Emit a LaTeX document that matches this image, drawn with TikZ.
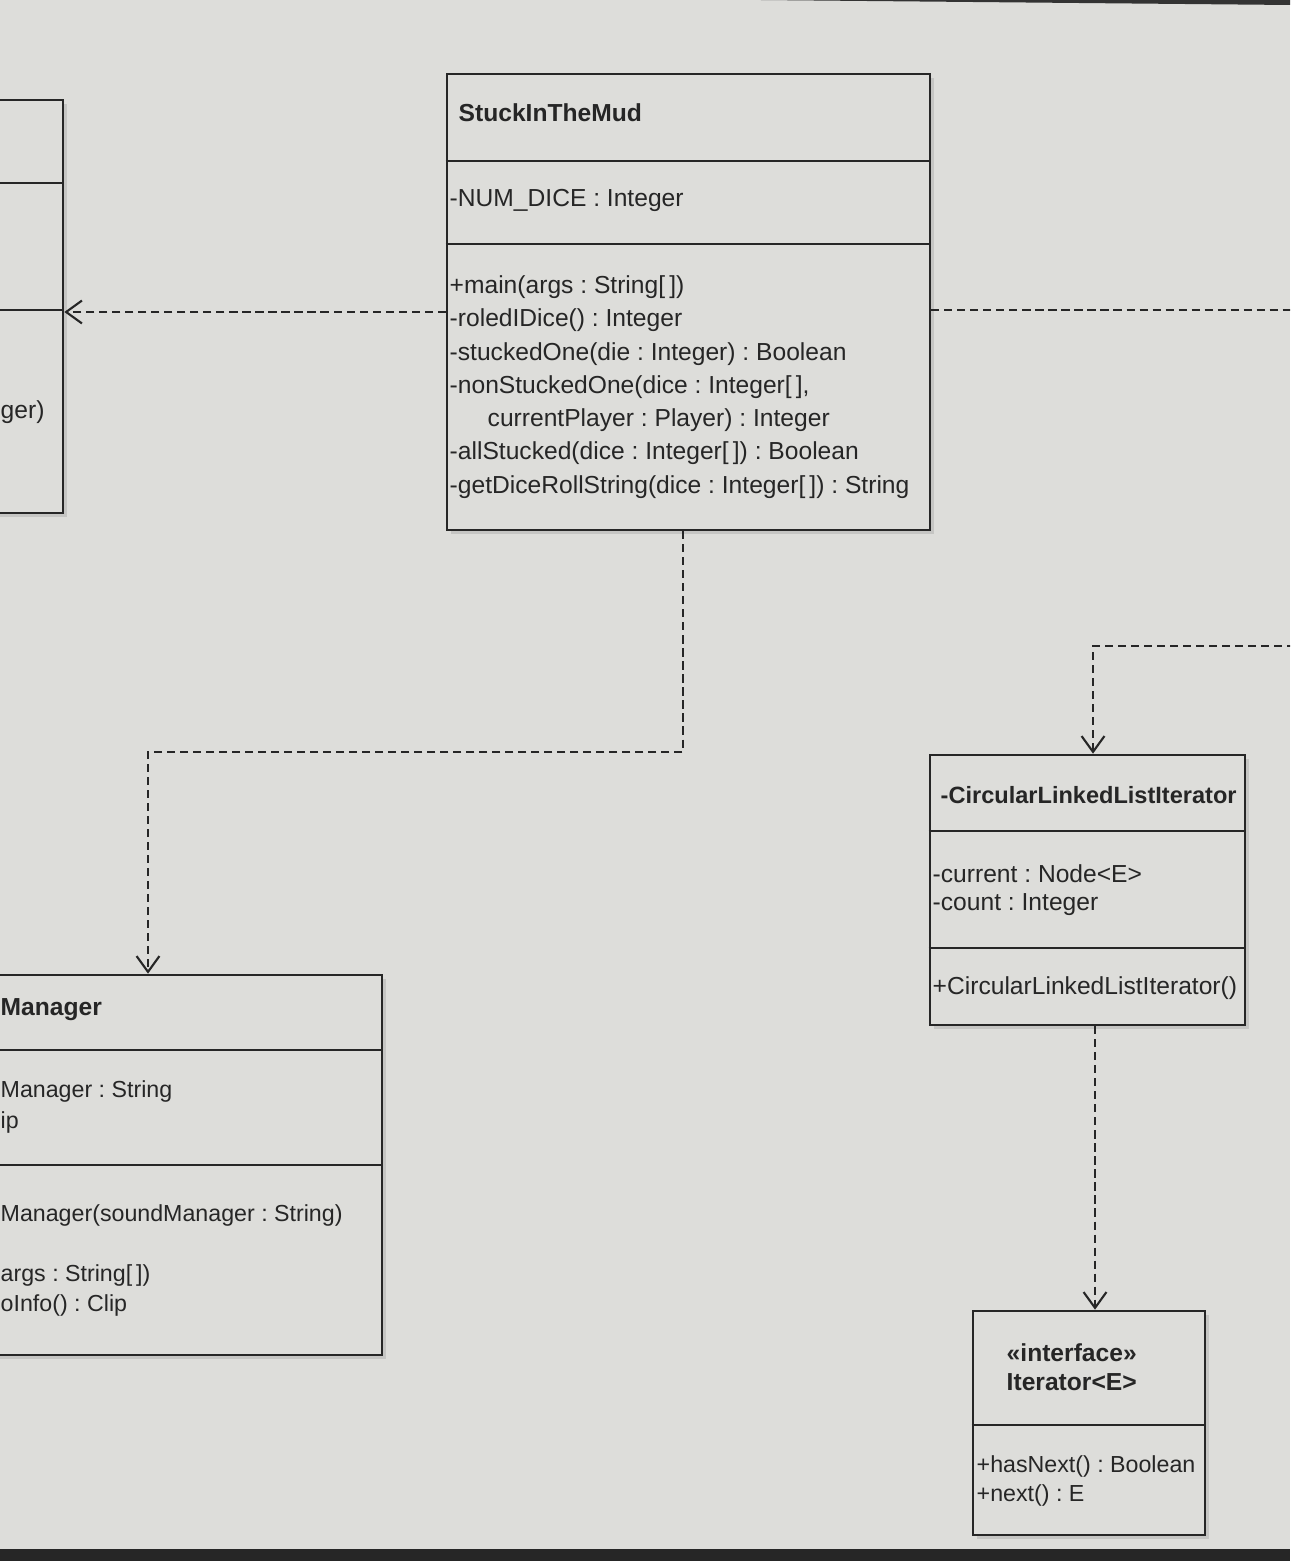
\documentclass[tikz,border=0pt]{standalone}
\usepackage{fontspec}
\setmainfont{Liberation Sans}
\usetikzlibrary{arrows.meta,fit,shadows}

\definecolor{paper}{RGB}{221,221,218}
\definecolor{ink}{RGB}{38,38,38}

\tikzset{
  umlbox/.style={draw=ink, line width=0.75pt, fill=paper, inner sep=0pt,
    drop shadow={shadow xshift=1pt, shadow yshift=-1pt, opacity=.25}},
  divider/.style={draw=ink, line width=0.75pt},
  member/.style={anchor=west, inner sep=0pt, text=ink, font=\fontsize{7}{8}\selectfont\frenchspacing},
  smallmember/.style={member, font=\fontsize{6.6}{8}\selectfont\frenchspacing},
  classname/.style={member, font=\fontsize{7}{8}\selectfont\bfseries},
  dep/.style={draw=ink, line width=0.6pt, dash pattern=on 2.3pt off 1.4pt,
    -{Straight Barb[length=4.5pt,width=6.5pt]}},
}

\begin{document}
\begin{tikzpicture}[x=0.01cm,y=-0.01cm]
\useasboundingbox (0,0) rectangle (1290,1561);
\clip (0,0) rectangle (1290,1561);
% Screen
\fill[paper] (0,0) rectangle (1290,1561);
\fill[black!85] (0,1549) rectangle (1290,1561);
\fill[black!80] (760,0) -- (1290,0) -- (1290,5) -- cycle;

% Class boxes
\node[umlbox, fit={(-20,100) (63,513)}] (lbox) {};
\node[umlbox, fit={(447,74) (930,530)}] (stuck) {};
\node[umlbox, fit={(-20,975) (382,1355)}] (mgr) {};
\node[umlbox, fit={(930,755) (1245,1025)}] (clli) {};
\node[umlbox, fit={(973,1311) (1205,1535)}] (iter) {};

% Compartments
\draw[divider] (lbox.west |- 0,183) -- (lbox.east |- 0,183);
\draw[divider] (lbox.west |- 0,310) -- (lbox.east |- 0,310);
\draw[divider] (stuck.west |- 0,161) -- (stuck.east |- 0,161);
\draw[divider] (stuck.west |- 0,244) -- (stuck.east |- 0,244);
\draw[divider] (mgr.west |- 0,1050) -- (mgr.east |- 0,1050);
\draw[divider] (mgr.west |- 0,1165) -- (mgr.east |- 0,1165);
\draw[divider] (clli.west |- 0,831) -- (clli.east |- 0,831);
\draw[divider] (clli.west |- 0,948) -- (clli.east |- 0,948);
\draw[divider] (iter.west |- 0,1425) -- (iter.east |- 0,1425);

% Left class (cut off)
\node[member] (lboxM) at (0,412) {ger)};

% StuckInTheMud
\node[classname] (stuckT) at (458,113) {StuckInTheMud};
\node[member] (stuckA) at (449,200) {-NUM\_DICE : Integer};
\node[member] (stuckM1) at (449,287) {+main(args : String[\,])};
\node[member] (stuckM2) at (449,320) {-roledIDice() : Integer};
\node[member] (stuckM3) at (449,354) {-stuckedOne(die : Integer) : Boolean};
\node[member] (stuckM4) at (449,387) {-nonStuckedOne(dice : Integer[\,],};
\node[member] (stuckM5) at (487,420) {currentPlayer : Player) : Integer};
\node[member] (stuckM6) at (449,453) {-allStucked(dice : Integer[\,]) : Boolean};
\node[member] (stuckM7) at (449,487) {-getDiceRollString(dice : Integer[\,]) : String};

% Manager (cut off)
\node[classname] (mgrT) at (0,1010) {Manager};
\node[smallmember] (mgrA1) at (0,1091) {Manager : String};
\node[smallmember] (mgrA2) at (0,1122) {ip};
\node[smallmember] (mgrM1) at (0,1215) {Manager(soundManager : String)};
\node[smallmember] (mgrM2) at (0,1275) {args : String[\,])};
\node[smallmember] (mgrM3) at (0,1305) {oInfo() : Clip};

% CircularLinkedListIterator
\node[classname, font=\fontsize{6.7}{8}\selectfont\bfseries] (clliT) at (940,795) {-CircularLinkedListIterator};
\node[member] (clliA1) at (932,874) {-current : Node<E>};
\node[member] (clliA2) at (932,905) {-count : Integer};
\node[member] (clliM1) at (932,988) {+CircularLinkedListIterator()};

% Iterator interface
\node[classname] (iterS) at (1006,1353) {«interface»};
\node[classname] (iterT) at (1006,1382) {Iterator<E>};
\node[smallmember] (iterM1) at (976,1466) {+hasNext() : Boolean};
\node[smallmember] (iterM2) at (976,1495) {+next() : E};

% Dependencies
\coordinate (offR1) at (1295,310);
\coordinate (offR2) at (1295,646);
\draw[dep] (stuck.west |- 0,312) -- (lbox.east |- 0,312);
\draw[dep, -] (stuck.east |- 0,310) -- (offR1);
\draw[dep] (stuck.south -| 683,0) |- (148,752) -- (mgr.north -| 148,0);
\draw[dep] (offR2) -| (clli.north -| 1093,0);
\draw[dep] (clli.south -| 1095,0) -- (iter.north -| 1095,0);
\end{tikzpicture}
\end{document}
